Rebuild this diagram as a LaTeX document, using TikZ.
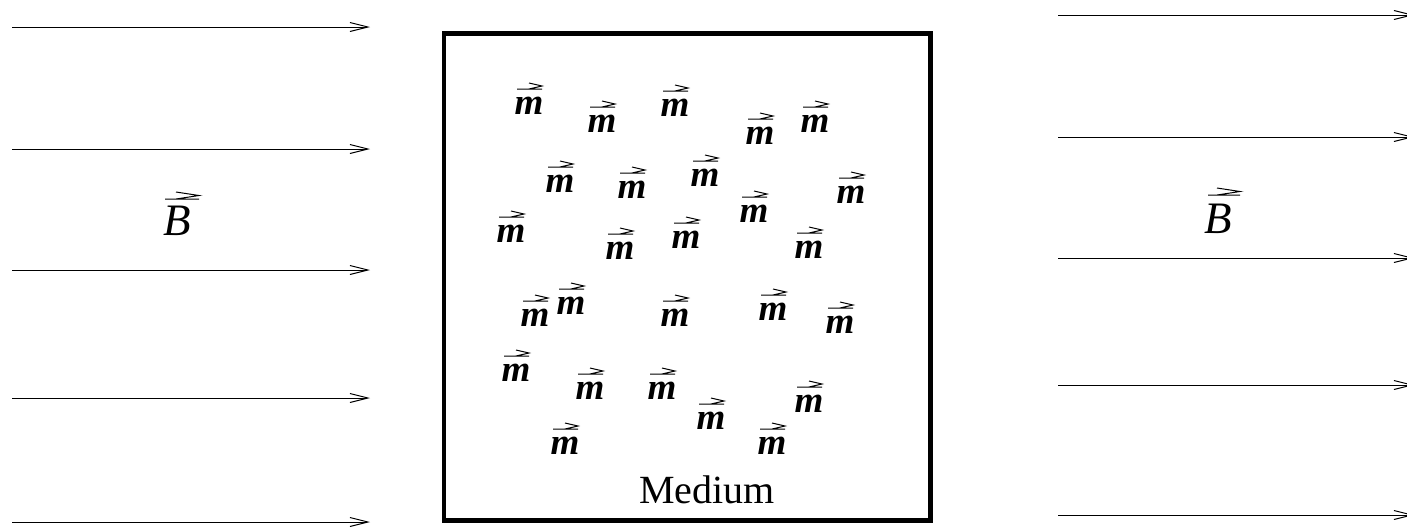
\documentclass[tikz,border=0pt]{standalone}
\usepackage{fontspec}
\setmainfont{Liberation Serif}
\usetikzlibrary{arrows.meta,calc}
\tikzset{
  field/.style={line width=0.5pt, -{Straight Barb[length=9pt,width=4.5pt,line width=0.5pt]}},
  medium/.style={draw, line width=2.25pt, inner sep=0pt, minimum width=243.25pt, minimum height=243.5pt},
  mnode/.style={inner sep=0pt, font=\fontsize{18.5}{18.5}\selectfont\bfseries\itshape},
  bnode/.style={inner sep=0pt, font=\fontsize{22.5}{22.5}\selectfont\itshape},
  labelnode/.style={inner sep=0pt, anchor=base, font=\fontsize{20}{20}\selectfont},
  vecline/.style={line width=0.5pt},
}
% #1 node, #2 shaft start x, #3 tip x, #4 barb start x, #5 shaft y, #6 barb height
\newcommand\vecover[6]{%
  \draw[vecline] ($(#1.center)+(#2,#5)$) -- ($(#1.center)+(#3,#5)$)
    ($(#1.center)+(#4,#5-#6)$) -- ($(#1.center)+(#3,#5-#6/2)$) -- ($(#1.center)+(#4,#5)$);
}
\newcommand\mvec[3]{%
  \node[mnode] (#1) at (#2,#3) {m};
  \vecover{#1}{-12}{13}{0}{-17}{6}
}
\begin{document}
\begin{tikzpicture}[x=0.5pt,y=-0.5pt]
\useasboundingbox (0,0) rectangle (1407,531);
% field lines, left
\foreach \i/\yy in {1/27,2/149,3/270,4/398,5/522}{
  \coordinate (la\i) at (12,\yy);
  \coordinate (lb\i) at (370,\yy);
  \draw[field] (la\i) -- (lb\i);
}
% field lines, right
\foreach \i/\yy in {1/15,2/137,3/258,4/385,5/515}{
  \coordinate (ra\i) at (1058,\yy);
  \coordinate (rb\i) at (1414,\yy);
  \draw[field] (ra\i) -- (rb\i);
}
% B labels
\node[bnode] (BL) at (177,221) {B};
\vecover{BL}{-12}{22}{-1}{-22}{7}
\node[bnode] (BR) at (1218,219) {B};
\vecover{BR}{-10}{22}{-1}{-24}{7}
% medium
\node[medium] (box) at (687.25,277) {};
\node[labelnode] (medlabel) at (707,503) {Medium};
% moments
\mvec{m1}{529}{106}
\mvec{m2}{602}{124}
\mvec{m3}{675}{108}
\mvec{m4}{760}{136}
\mvec{m5}{815}{124}
\mvec{m6}{560}{184}
\mvec{m7}{632}{190}
\mvec{m8}{705}{178}
\mvec{m9}{754}{214}
\mvec{m10}{851}{195}
\mvec{m11}{511}{234}
\mvec{m12}{620}{251}
\mvec{m13}{686}{240}
\mvec{m14}{809}{250}
\mvec{m15}{535}{318}
\mvec{m16}{571}{306}
\mvec{m17}{675}{318}
\mvec{m18}{773}{312}
\mvec{m19}{840}{325}
\mvec{m20}{516}{373}
\mvec{m21}{590}{391}
\mvec{m22}{662}{391}
\mvec{m23}{711}{421}
\mvec{m24}{809}{404}
\mvec{m25}{565}{446}
\mvec{m26}{772}{446}
\end{tikzpicture}
\end{document}
